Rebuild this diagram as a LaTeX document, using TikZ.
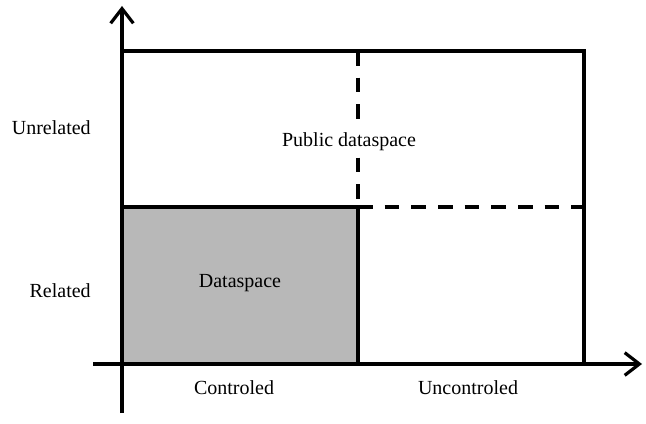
\documentclass[tikz,border=0pt]{standalone}
\usepackage{fontspec}
\setmainfont{Liberation Serif}
\usetikzlibrary{arrows.meta,positioning}

\begin{document}
\begin{tikzpicture}[x=0.75pt,y=-0.75pt,
		bold/.style={line width=2.8pt},
		dashline/.style={line width=2.8pt, dash pattern=on 11pt off 9pt},
		axis/.style={line width=2.8pt, -{Straight Barb[length=11pt,width=17pt,line width=2.4pt]}},
		lbl/.style={font=\fontsize{15}{18}\selectfont, inner sep=0pt, anchor=base}]
				\useasboundingbox (0,0) rectangle (646,424);
				% corners of the grid
				\coordinate (o) at (122,364);
				\coordinate (tl) at (122,51);
				\coordinate (tm) at (358,51);
				\coordinate (tr) at (584,51);
				\coordinate (ml) at (122,207);
				\coordinate (mm) at (358,207);
				\coordinate (mr) at (584,207);
				\coordinate (bm) at (358,364);
				\coordinate (br) at (584,364);
				
				\fill[black!28] (ml) rectangle (bm);
				
				% axes
				\coordinate (ystart) at (122,413);
				\coordinate (yend) at (122,6);
				\coordinate (xstart) at (93,364);
				\coordinate (xend) at (642,364);
				\draw[axis] (ystart) -- (yend);
				\draw[axis] (xstart) -- (xend);
				
				\draw[bold] (tl) -- (tr) -- (br);
				\draw[bold] (ml) -- (mm) -- (bm);
				\draw[dashline] (tm) -- (mm);
				\draw[dashline] (mm) -- (mr);
				
				\node[lbl, anchor=base east] (unrel) at (91,135) {Unrelated};
				\node[lbl, anchor=base east] (rel) at (91,297) {Related};
				\node[lbl, fill=white, inner sep=2pt] (pub) at (349,147) {Public dataspace};
				\node[lbl] (ds) at (240,287) {Dataspace};
				\node[lbl] (ctrl) at (234,394) {Controled};
				\node[lbl] (unctrl) at (468,394) {Uncontroled};
			\end{tikzpicture}
\end{document}
